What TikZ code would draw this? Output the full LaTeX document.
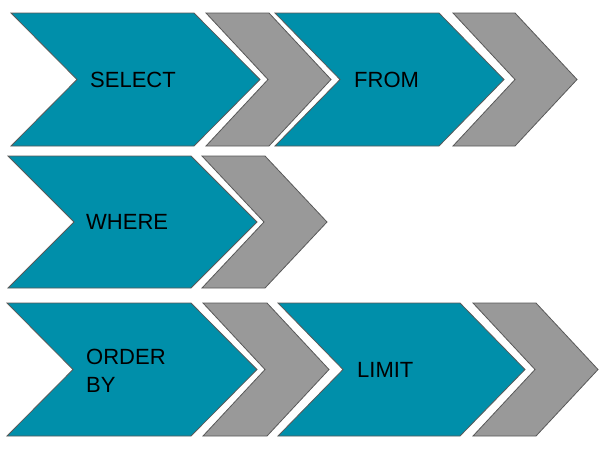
\documentclass[tikz,border=0pt]{standalone}
\usepackage{fontspec}
\setmainfont{Liberation Sans}
\usepackage{tikz}
\definecolor{stepteal}{RGB}{0,143,170}
\definecolor{stepgrey}{RGB}{153,153,153}
\definecolor{stepline}{RGB}{89,89,89}
\tikzset{
  tealstep/.style={fill=stepteal, draw=stepline, line width=0.8pt},
  greystep/.style={fill=stepgrey, draw=stepline, line width=0.8pt},
  steptext/.style={anchor=west, inner sep=0pt, align=left,
                   font=\fontsize{22}{28}\selectfont},
}
% chevron: style, left, right, top, bottom, depth
\newcommand{\chev}[6]{%
  \filldraw[#1] (#2,#4) -- (#3,#4) -- ({#3+#6},{(#4+#5)/2})
    -- (#3,#5) -- (#2,#5) -- ({#2+#6},{(#4+#5)/2}) -- cycle;}

\begin{document}
\begin{tikzpicture}[x=1pt, y=-1pt]
  \useasboundingbox (0,0) rectangle (612,451);

  % Row 1
  \chev{tealstep}{11}{194}{13}{146}{66}
  \chev{greystep}{206}{269}{13}{146}{62}
  \chev{tealstep}{275}{439}{13}{146}{65}
  \chev{greystep}{453}{515}{13}{146}{62}
  \node[steptext] (select) at (90,79.5)  {SELECT};
  \node[steptext] (from)   at (354,79.5) {FROM};

  % Row 2
  \chev{tealstep}{8}{191}{156}{288}{66}
  \chev{greystep}{202}{265}{156}{288}{62}
  \node[steptext] (where) at (86,222) {WHERE};

  % Row 3
  \chev{tealstep}{7}{191}{303}{436}{66}
  \chev{greystep}{203}{267}{303}{436}{62}
  \chev{tealstep}{278}{460}{303}{436}{65}
  \chev{greystep}{473}{536}{303}{436}{62}
  \node[steptext] (orderby) at (86,370.5) {ORDER\\BY};
  \node[steptext] (limit)   at (357,369.5) {LIMIT};
\end{tikzpicture}
\end{document}
